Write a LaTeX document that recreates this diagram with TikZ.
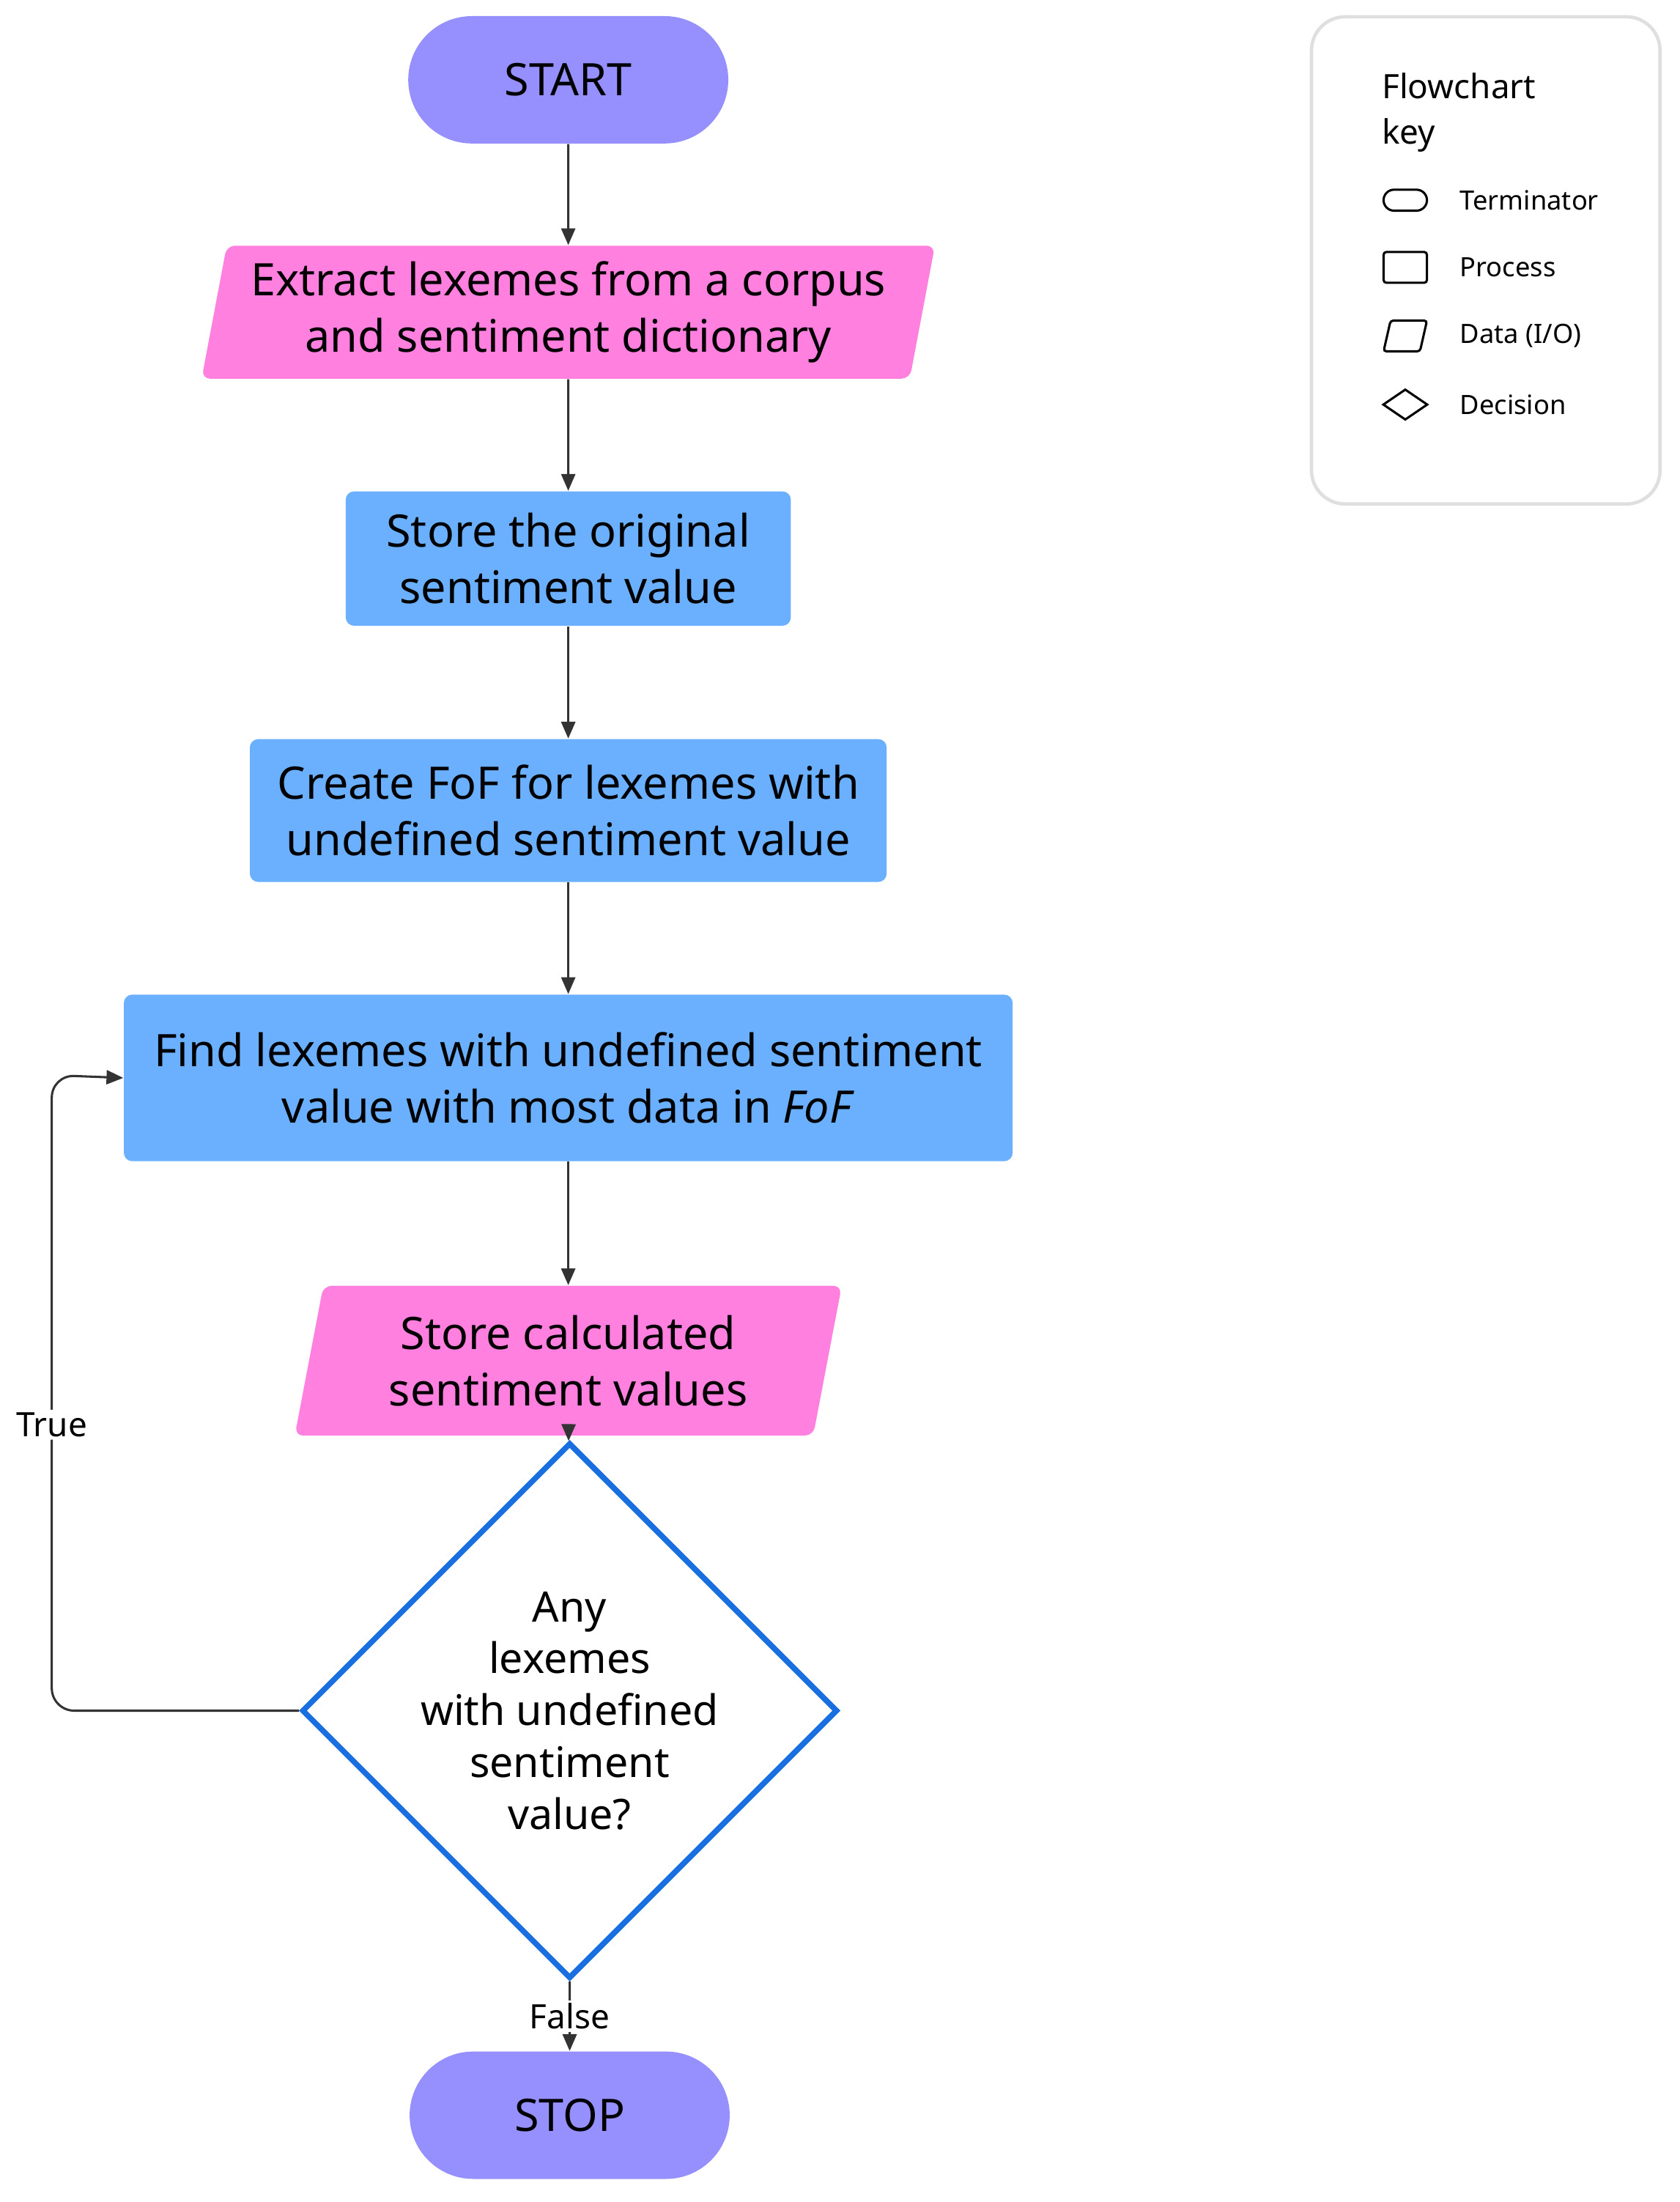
\documentclass[tikz,border=0pt]{standalone}
\usepackage{fontspec}
\setmainfont{Noto Sans}
\usetikzlibrary{shapes.geometric,shapes.misc,arrows.meta}
\definecolor{term}{HTML}{9690FF}
\definecolor{io}{HTML}{FF80DF}
\definecolor{proc}{HTML}{6BB0FF}
\definecolor{dec}{HTML}{1A6FE0}
\definecolor{ln}{HTML}{333333}
\begin{document}
\begin{tikzpicture}[x=0.5pt,y=-0.5pt,
  term/.style={rounded rectangle,fill=term,minimum width=121pt,minimum height=45.5pt,font=\fontsize{16}{19}\selectfont\bfseries},
  proc/.style={rectangle,rounded corners=3pt,fill=proc,align=center,font=\fontsize{16}{20}\selectfont,inner sep=0pt},
  io/.style={trapezium,trapezium left angle=77,trapezium right angle=103,trapezium stretches=true,rounded corners=3pt,fill=io,align=center,font=\fontsize{16}{20}\selectfont,inner sep=0pt},
  arr/.style={draw=ln,line width=0.8pt,-{Triangle[length=6pt,width=5pt]}},
  lab/.style={fill=white,font=\fontsize{12}{14}\selectfont,inner sep=1pt},
  keyline/.style={draw,line width=0.8pt},
  key/.style={font=\fontsize{9.5}{11}\selectfont,anchor=west}]
\useasboundingbox (0,0) rectangle (1200,1573);
\node[term] (start) at (406,57) {START};
\node[io,minimum width=262pt,minimum height=47.5pt] (extract) at (406,223) {Extract lexemes from a corpus\\and sentiment dictionary};
\node[proc,minimum width=159pt,minimum height=48pt] (store) at (406,399) {Store the original\\sentiment value};
\node[proc,minimum width=227.5pt,minimum height=51pt] (create) at (406,579) {Create FoF for lexemes with\\undefined sentiment value};
\node[proc,minimum width=317.5pt,minimum height=59.5pt] (find) at (406,770) {Find lexemes with undefined sentiment\\value with most data in \textit{FoF}};
\node[io,minimum width=195.5pt,minimum height=53.5pt] (calc) at (406,972) {Store calculated\\sentiment values};
\node[diamond,draw=dec,line width=2pt,fill=white,minimum width=159pt,minimum height=122pt,inner sep=0pt,align=center,font=\fontsize{15}{18.5}\selectfont] (any) at (407,1222) {Any\\lexemes\\with undefined\\sentiment\\value?};
\node[term] (stop) at (407,1511) {STOP};
\draw[arr] (start) -- (extract);
\draw[arr] (extract) -- (store);
\draw[arr] (store) -- (create);
\draw[arr] (create) -- (find);
\draw[arr] (find) -- (calc);
\draw[arr] (calc) -- (any);
\draw[arr] (any) -- node[lab] {False} (stop);
\coordinate (c1) at (37,1222);
\coordinate (c2) at (37,768);
\draw[arr,rounded corners=8pt] (any.west) -- (c1) -- node[lab,pos=0.45] {True} (c2) -- (find.west);
% legend
\node[draw=gray!25,line width=1.2pt,rounded corners=12pt,minimum width=124.5pt,minimum height=174pt] (legend) at (1061.5,186) {};
\node[anchor=north west,align=left,font=\fontsize{12}{16}\selectfont\bfseries,inner sep=0pt] (ktitle) at (987,52) {Flowchart\\key};
\node[rounded rectangle,keyline,minimum width=15.5pt,minimum height=7.5pt,inner sep=0pt] (k1) at (1004,143) {};
\node[keyline,minimum width=15.5pt,minimum height=11pt,inner sep=0pt,rounded corners=1pt] (k2) at (1004,191) {};
\coordinate (k3) at (1004,240);
\draw[keyline,rounded corners=1pt] ([shift={(-15.5,11)}]k3) -- ([shift={(-10.5,-11)}]k3) -- ([shift={(15.5,-11)}]k3) -- ([shift={(10.5,11)}]k3) -- cycle;
\node[diamond,keyline,minimum width=16pt,minimum height=11pt,inner sep=0pt] (k4) at (1004,289) {};
\node[key] (t1) at (1036,143) {Terminator};
\node[key] (t2) at (1036,191) {Process};
\node[key] (t3) at (1036,240) {Data (I/O)};
\node[key] (t4) at (1036,289) {Decision};
\end{tikzpicture}
\end{document}
